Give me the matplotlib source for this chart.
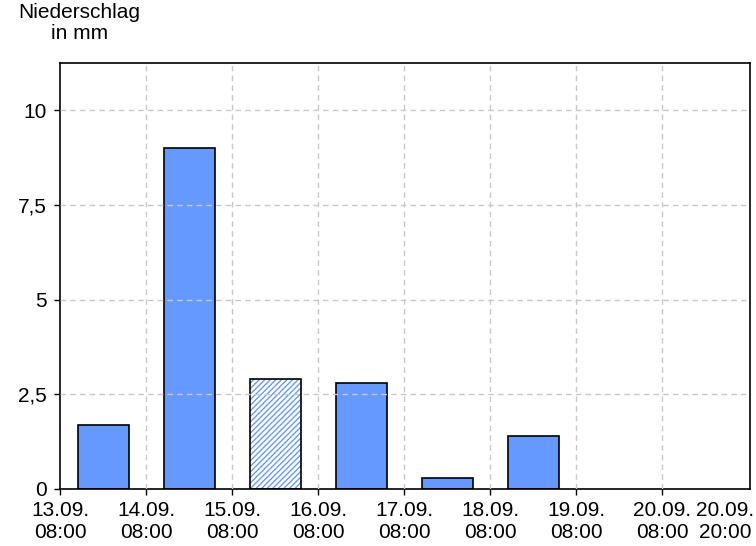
import numpy as np
import matplotlib
matplotlib.use("Agg")
import matplotlib.pyplot as plt
import matplotlib.transforms as mtransforms

plt.rcParams['font.family'] = ['Liberation Sans', 'DejaVu Sans']

# daily precipitation, 08:00 to 08:00
days = np.arange(6)
values = [1.7, 9.0, 2.9, 2.8, 0.3, 1.4]
forecast = [False, False, True, False, False, False]  # hatched bar

tick_pos = [0, 1, 2, 3, 4, 5, 6, 7, 8.02]
tick_labels = ["13.09.\n08:00", "14.09.\n08:00", "15.09.\n08:00", "16.09.\n08:00",
               "17.09.\n08:00", "18.09.\n08:00", "19.09.\n08:00", "20.09.\n08:00",
               "20.09.\n20:00"]
y_ticks = [0, 2.5, 5, 7.5, 10]
y_labels = ["0", "2,5", "5", "7,5", "10"]

blue = "#6699ff"

fig = plt.figure(figsize=(7.56, 5.46), dpi=100)
ax = fig.add_axes([0.080, 0.1044, 0.912, 0.7802])

for d, v, f in zip(days, values, forecast):
    if f:
        ax.bar(d + 0.5, v, width=0.6, color="white", edgecolor=blue, hatch="//////",
               linewidth=0, zorder=1)
        ax.bar(d + 0.5, v, width=0.6, fill=False, edgecolor="black", linewidth=1.2, zorder=1)
    else:
        ax.bar(d + 0.5, v, width=0.6, color=blue, edgecolor="black", linewidth=1.2, zorder=1)

ax.set_xlim(0, 8.02)
ax.set_ylim(0, 11.25)

# grid on top of the bars
for x in range(1, 8):
    ax.axvline(x, color="#c8c8c8", linestyle=(0, (4, 3)), linewidth=1, zorder=3)
for y in y_ticks[1:]:
    ax.axhline(y, color="#c8c8c8", linestyle=(0, (4, 3)), linewidth=1, zorder=3)

ax.set_xticks(tick_pos)
ax.set_xticklabels(tick_labels, fontsize=15, linespacing=1.2)
ax.set_yticks(y_ticks)
ax.set_yticklabels(y_labels, fontsize=15)
ax.tick_params(direction="out", length=4, width=1)
ax.tick_params(axis="x", pad=5)
ax.tick_params(axis="y", pad=6)

# shift the last label so it stays inside the picture
last = ax.get_xticklabels()[-1]
last.set_transform(last.get_transform() + mtransforms.ScaledTranslation(-25 / 100, 0, fig.dpi_scale_trans))
ax.get_xticklines()[-2].set_visible(False)

for s in ax.spines.values():
    s.set_linewidth(1.2)

fig.text(79.5 / 756, 1 - 3 / 546, "Niederschlag\nin mm", ha="center", va="top",
         fontsize=15, linespacing=1.15, multialignment="center")

fig.savefig("out.png", dpi=100)
